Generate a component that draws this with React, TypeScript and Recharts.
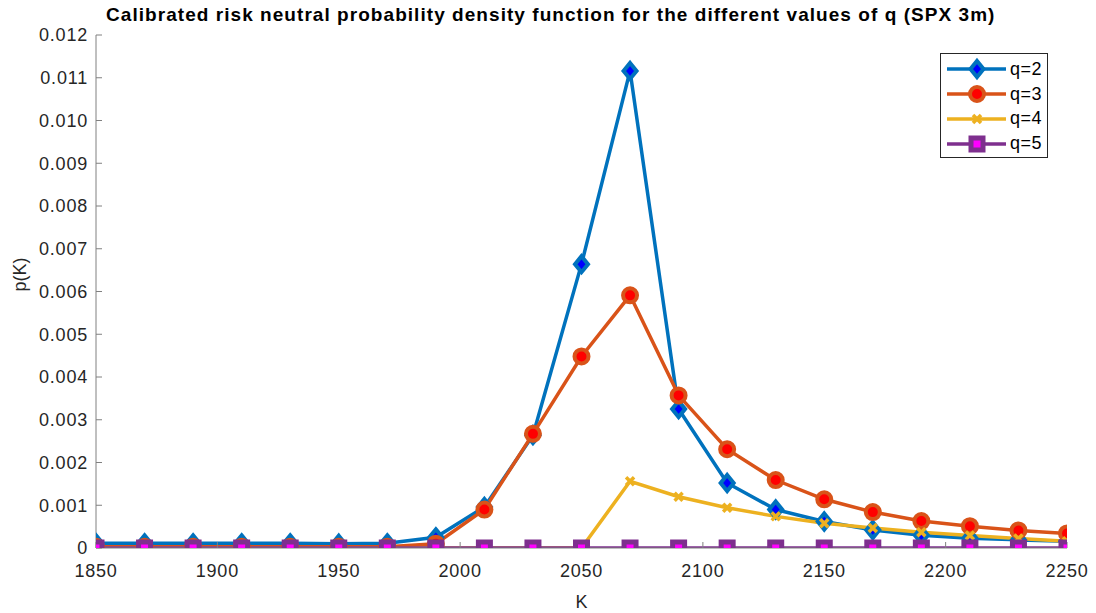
import { Line, LineChart, XAxis, YAxis } from "recharts";

const strikes = [
  1850, 1870, 1890, 1910, 1930, 1950, 1970, 1990, 2010, 2030, 2050, 2070, 2090, 2110, 2130, 2150, 2170, 2190,
  2210, 2230, 2250,
];
const q2 = [
  0.00011, 0.00011, 0.00011, 0.00011, 0.00011, 0.0001, 0.00011, 0.00025, 0.00096, 0.00264, 0.00664, 0.01116,
  0.00325, 0.00152, 0.0009, 0.00062, 0.00042, 0.0003, 0.00023, 0.00019, 0.00016,
];
const q3 = [
  0.00003, 0.00003, 0.00003, 0.00003, 0.00003, 0.00003, 0.00003, 0.0001, 0.0009, 0.00267, 0.00448, 0.00591,
  0.00357, 0.00231, 0.00159, 0.00114, 0.00084, 0.00063, 0.00051, 0.00041, 0.00034,
];
const q4 = [
  0, 0, 0, 0, 0, 0, 0, 0, 0, 0, 0, 0.00156, 0.0012, 0.00094, 0.00074, 0.00058, 0.00047, 0.00037, 0.00029,
  0.00022, 0.00016,
];
const q5 = [0, 0, 0, 0, 0, 0, 0, 0, 0, 0, 0, 0, 0, 0, 0, 0, 0, 0, 0, 0, 0];

const xTicks = [1850, 1900, 1950, 2000, 2050, 2100, 2150, 2200, 2250];
const yTicks = [0, 0.001, 0.002, 0.003, 0.004, 0.005, 0.006, 0.007, 0.008, 0.009, 0.01, 0.011, 0.012];

const FONT = '"Liberation Sans", Arial, Helvetica, sans-serif';
const BLUE = "#0072BD";
const ORANGE = "#D95319";
const YELLOW = "#EDB120";
const PURPLE = "#7E2F8E";

const data = strikes.map((k, i) => ({ k, q2: q2[i], q3: q3[i], q4: q4[i], q5: q5[i] }));

function Diamond({ cx, cy }: { cx: number; cy: number }) {
  return (
    <polygon
      points={`${cx},${cy - 8} ${cx + 6.5},${cy} ${cx},${cy + 8} ${cx - 6.5},${cy}`}
      fill="#0000FF"
      stroke={BLUE}
      strokeWidth={4}
      strokeLinejoin="miter"
    />
  );
}

function Circle({ cx, cy }: { cx: number; cy: number }) {
  return <circle cx={cx} cy={cy} r={7} fill="#FF0000" stroke={ORANGE} strokeWidth={4} />;
}

function Cross({ cx, cy }: { cx: number; cy: number }) {
  return (
    <g stroke={YELLOW} strokeWidth={3.5}>
      <line x1={cx - 4} y1={cy - 4} x2={cx + 4} y2={cy + 4} />
      <line x1={cx - 4} y1={cy + 4} x2={cx + 4} y2={cy - 4} />
    </g>
  );
}

function Square({ cx, cy }: { cx: number; cy: number }) {
  return <rect x={cx - 6} y={cy - 6} width={12} height={12} fill="#FF00FF" stroke={PURPLE} strokeWidth={5} />;
}

const series = [
  { key: "q2", label: "q=2", color: BLUE, Mark: Diamond },
  { key: "q3", label: "q=3", color: ORANGE, Mark: Circle },
  { key: "q4", label: "q=4", color: YELLOW, Mark: Cross },
  { key: "q5", label: "q=5", color: PURPLE, Mark: Square },
];

function LegendBox() {
  return (
    <div
      style={{
        position: "absolute",
        left: 940,
        top: 53,
        width: 108,
        height: 105,
        border: "1px solid #262626",
        background: "#fff",
        boxSizing: "border-box",
        paddingTop: 3,
      }}
    >
      {series.map((s) => (
        <div key={s.key} style={{ display: "flex", alignItems: "center", height: 24.8 }}>
          <svg width={69} height={24} style={{ flex: "none" }}>
            <line x1={6} y1={12} x2={65} y2={12} stroke={s.color} strokeWidth={3.5} />
            <s.Mark cx={36} cy={12} />
          </svg>
          <span style={{ fontFamily: FONT, fontSize: 18, letterSpacing: 0.5, color: "#000" }}>{s.label}</span>
        </div>
      ))}
    </div>
  );
}

const tickStyle = { fill: "#262626", fontSize: 18, letterSpacing: 0.8 };

export default function App() {
  return (
    <div style={{ position: "absolute", left: 0, top: 0, width: 1096, height: 613, background: "#fff" }}>
      <div
        style={{
          position: "absolute",
          left: 106,
          top: 4,
          width: 890,
          whiteSpace: "nowrap",
          fontFamily: FONT,
          fontWeight: "bold",
          fontSize: 19,
          letterSpacing: 1.05,
          color: "#000",
        }}
      >
        Calibrated risk neutral probability density function for the different values of q (SPX 3m)
      </div>
      <LineChart
        width={1096}
        height={613}
        data={data}
        margin={{ top: 35, right: 29, bottom: 0, left: 0 }}
        style={{ fontFamily: FONT }}
      >
        <XAxis
          dataKey="k"
          type="number"
          domain={[1850, 2250]}
          ticks={xTicks}
          allowDataOverflow
          height={65}
          stroke="#808080"
          tickSize={-6}
          tickMargin={22}
          tick={tickStyle}
          label={{ value: "K", position: "insideBottom", offset: 5, fill: "#262626", fontSize: 18 }}
        />
        <YAxis
          type="number"
          domain={[0, 0.012]}
          ticks={yTicks}
          allowDataOverflow
          width={96}
          stroke="#808080"
          tickSize={-6}
          tickMargin={14}
          tickFormatter={(v: number) => (v === 0 ? "0" : v.toFixed(3))}
          tick={tickStyle}
          label={{ value: "p(K)", angle: -90, position: "insideLeft", offset: 20, fill: "#262626", fontSize: 18 }}
        />
        {series.map((s) => (
          <Line
            key={s.key}
            type="linear"
            dataKey={s.key}
            stroke={s.color}
            strokeWidth={3.5}
            dot={(p: any) => <s.Mark key={`${s.key}-${p.index}`} cx={p.cx} cy={p.cy} />}
            activeDot={false}
            isAnimationActive={false}
          />
        ))}
      </LineChart>
      <LegendBox />
    </div>
  );
}
